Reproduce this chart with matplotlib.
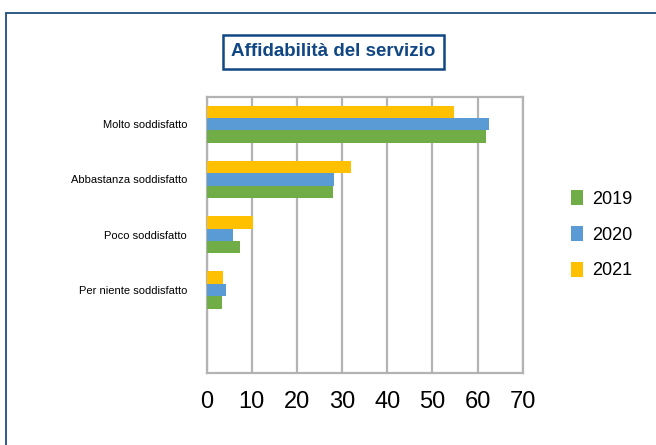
import numpy as np
import matplotlib
matplotlib.use("Agg")
import matplotlib.pyplot as plt
from matplotlib.patches import Rectangle

plt.rcParams['font.family'] = ['Liberation Sans', 'DejaVu Sans']

categorie = ['Molto soddisfatto', 'Abbastanza soddisfatto', 'Poco soddisfatto',
             'Per niente soddisfatto', '']
anni = ['2019', '2020', '2021']
v2019 = [61.9, 28.0, 7.3, 3.3, 0]
v2020 = [62.4, 28.2, 5.8, 4.2, 0]
v2021 = [54.7, 32.0, 10.2, 3.6, 0]
colori = ['#70ad47', '#5b9bd5', '#ffc000']

fig = plt.figure(figsize=(6.56, 4.45), dpi=100)
ax = fig.add_axes([0.315, 0.162, 0.482, 0.621])

y = np.arange(len(categorie))
h = 0.225
serie = [v2019, v2020, v2021]
# 2019 in basso nel gruppo, 2021 in alto (asse y invertito)
for k, (vals, col, lab) in enumerate(zip(serie, colori, anni)):
    ax.barh(y + (1 - k) * h, vals, height=h, color=col, label=lab, zorder=3)

ax.set_xlim(0, 70)
ax.set_ylim(len(categorie) - 0.5, -0.5)
ax.set_xticks(range(0, 71, 10))
ax.set_yticks(y)
ax.set_yticklabels(categorie, fontsize=8)
ax.tick_params(axis='x', labelsize=17, length=0, pad=13)
ax.tick_params(axis='y', length=0, pad=14)
ax.grid(axis='x', color='#b3b3b3', linewidth=1.6, zorder=0)
for s in ax.spines.values():
    s.set_color('#b3b3b3')
    s.set_linewidth(1.6)

ax.legend(loc='center left', bbox_to_anchor=(1.1, 0.5), frameon=False,
          fontsize=13, handlelength=0.7, handleheight=0.9, handletextpad=0.5,
          labelspacing=1.0)

fig.text(0.508, 0.884, 'Affidabilità del servizio', ha='center', va='center',
         fontsize=13.5, fontweight='bold', color='#114784',
         bbox=dict(boxstyle='square,pad=0.45', facecolor='white',
                   edgecolor='#114784', linewidth=1.8))

fig.patches.append(Rectangle((6 / 656, -0.1), 1.2, 1 - 13 / 445 + 0.1,
                             transform=fig.transFigure, fill=False,
                             edgecolor='#1f4e79', linewidth=1.3))

fig.savefig('out.png', dpi=100)
